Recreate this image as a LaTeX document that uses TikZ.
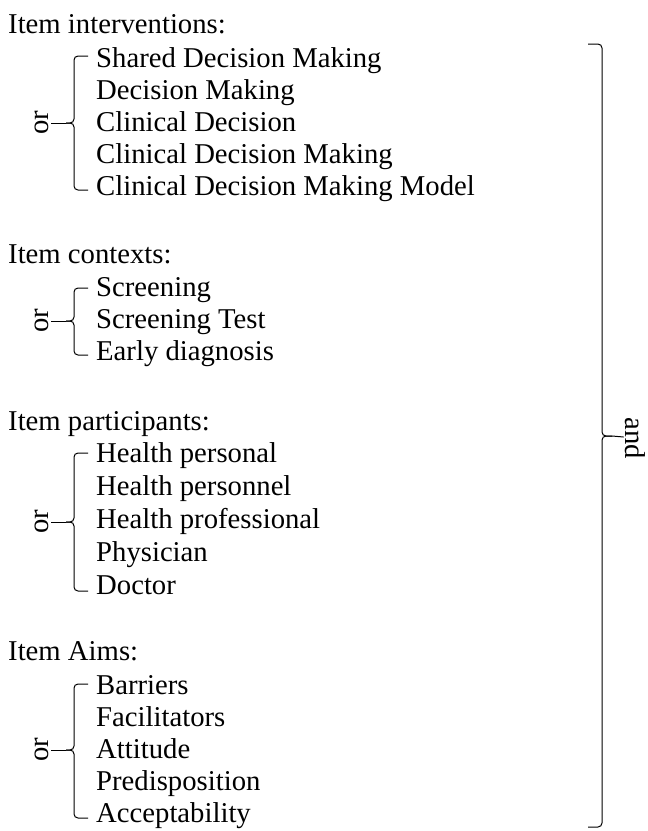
\documentclass[tikz,border=0pt]{standalone}
\usepackage{fontspec}
\setmainfont{Liberation Serif}
\tikzset{
	head/.style={anchor=base west, inner sep=0pt},
	term/.style={anchor=base west, inner sep=0pt},
	bracket/.style={line width=1pt, rounded corners=4pt},
	link/.style={line width=1pt},
}
\begin{document}
\begin{tikzpicture}[x=1pt,y=-1pt,font=\fontsize{28.7}{32}\selectfont]
			\useasboundingbox (0,0) rectangle (648,831);
			%interventions
			\node[head] (hint) at (8,33) {Item interventions:};
			\node[term] (int1) at (96,67) {Shared Decision Making};
			\node[term] (int2) at (96,99) {Decision Making};
			\node[term] (int3) at (96,131) {Clinical Decision};
			\node[term] (int4) at (96,163) {Clinical Decision Making};
			\node[term] (int5) at (96,195) {Clinical Decision Making Model};
			
			%contexts
			\node[head] (hctx) at (8,263) {Item contexts:};
			\node[term] (ctx1) at (96,296) {Screening};
			\node[term] (ctx2) at (96,328) {Screening Test};
			\node[term] (ctx3) at (96,360) {Early diagnosis};
			
			%participants
			\node[head] (hpar) at (8,430) {Item participants:};
			\node[term] (par1) at (96,462) {Health personal};
			\node[term] (par2) at (96,495) {Health personnel};
			\node[term] (par3) at (96,528) {Health professional};
			\node[term] (par4) at (96,561) {Physician};
			\node[term] (par5) at (96,594) {Doctor};
			
			%aims
			\node[head] (haim) at (8,660) {Item Aims:};
			\node[term] (aim1) at (96,694) {Barriers};
			\node[term] (aim2) at (96,726) {Facilitators};
			\node[term] (aim3) at (96,758) {Attitude};
			\node[term] (aim4) at (96,790) {Predisposition};
			\node[term] (aim5) at (96,822) {Acceptability};
			
			%or braces
			\foreach \top/\mid/\bot/\grp in {56/123/190/int, 288/321/355/ctx, 453/522/591/par, 684/750/818/aim}{
				\draw[bracket] (88,\top) -- (74,\top) -- (74,\mid) -- (66,\mid);
				\draw[bracket] (66,\mid) -- (74,\mid) -- (74,\bot) -- (88,\bot);
				\coordinate (tip\grp) at (66,\mid);
				\node[rotate=90, inner sep=2pt] (or\grp) at (42,\mid) {or};
				\draw[link] (tip\grp) -- (or\grp);
			}
			
			%and brace
			\draw[bracket] (588,44) -- (602,44) -- (602,436) -- (612,436);
			\draw[bracket] (612,436) -- (602,436) -- (602,827) -- (588,827);
			\coordinate (tipall) at (612,436);
			\node[rotate=-90, inner sep=1pt] (and) at (635,438) {and};
			\draw[link] (tipall) -- (and);
		\end{tikzpicture}
\end{document}
